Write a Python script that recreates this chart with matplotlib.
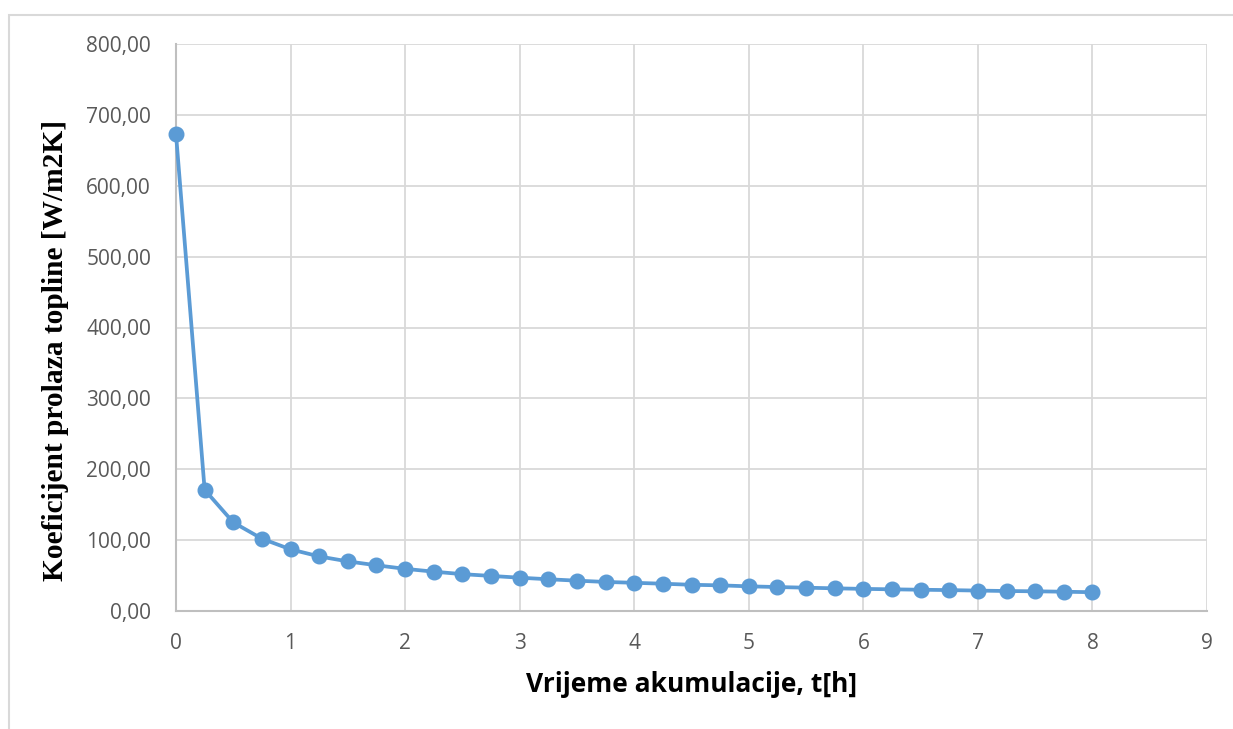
import matplotlib
matplotlib.use("Agg")
import matplotlib.pyplot as plt
from matplotlib.patches import Rectangle

# Data
t_hours = [0, 0.25, 0.5, 0.75, 1.0, 1.25, 1.5, 1.75, 2.0, 2.25, 2.5, 2.75, 3.0,
           3.25, 3.5, 3.75, 4.0, 4.25, 4.5, 4.75, 5.0, 5.25, 5.5, 5.75, 6.0,
           6.25, 6.5, 6.75, 7.0, 7.25, 7.5, 7.75, 8.0]
k_values = [673, 171, 125, 102, 87, 77, 70, 64.5, 59.5, 55.5, 52, 49.5, 47,
            44.8, 42.8, 41, 39.8, 38.5, 37, 36.2, 34.8, 33.8, 32.9, 32, 31.2,
            30.6, 30, 29.5, 28.8, 28.2, 27.8, 27.2, 26.5]
x_ticks = list(range(0, 10))
y_ticks = list(range(0, 900, 100))
y_tick_labels = [f"{v:.2f}".replace(".", ",") for v in y_ticks]
x_label = "Vrijeme akumulacije, t[h]"
y_label = "Koeficijent prolaza topline [W/m2K]"

W, H = 1233, 729
fig = plt.figure(figsize=(W / 100, H / 100), dpi=100)
fig.patch.set_facecolor("white")

# outer chart frame
fig.patches.append(Rectangle((8.5 / W, -0.1), 1.2, 1.1 - 15 / H,
                             transform=fig.transFigure, fill=False,
                             edgecolor="#D9D9D9", linewidth=1.5))

ax = fig.add_axes([176 / W, 1 - 611 / H, (1207 - 176) / W, (611 - 44) / H])
ax.plot(t_hours, k_values, color="#5B9BD5", linewidth=2.7, marker="o",
        markersize=10.5, markerfacecolor="#5B9BD5", markeredgecolor="#5B9BD5",
        zorder=3, clip_on=False)

ax.set_xlim(0, 9)
ax.set_ylim(0, 800)
ax.set_xticks(x_ticks)
ax.set_yticks(y_ticks)
ax.set_yticklabels(y_tick_labels)
ax.grid(True, color="#D9D9D9", linewidth=1.3, zorder=0)
ax.set_axisbelow(True)
for side in ["top", "right"]:
    ax.spines[side].set_visible(False)
for side in ["left", "bottom"]:
    ax.spines[side].set_color("#BFBFBF")
    ax.spines[side].set_linewidth(1.5)
ax.tick_params(axis="y", length=0, pad=18, labelsize=15, labelcolor="#595959")
ax.tick_params(axis="x", length=0, pad=16, labelsize=15, labelcolor="#595959")
for lbl in ax.get_xticklabels() + ax.get_yticklabels():
    lbl.set_fontfamily("Open Sans")

ax.set_xlabel(x_label, fontsize=19, fontweight="bold", fontfamily="Open Sans",
              color="black", labelpad=12)
ax.set_ylabel(y_label, fontsize=21.2, fontweight="bold",
              fontfamily="Liberation Serif", color="black")
ax.yaxis.set_label_coords(-0.104, 0.46)

fig.savefig("out.png", dpi=100)
